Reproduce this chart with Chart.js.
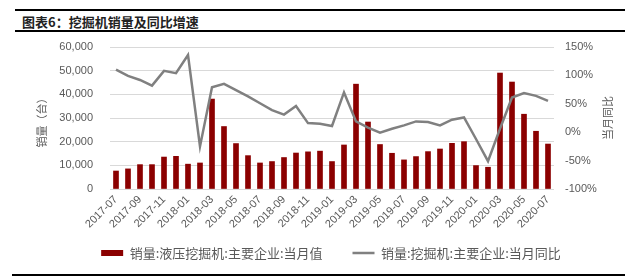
<!DOCTYPE html>
<html>
<head>
<meta charset="utf-8">
<script src="https://cdn.jsdelivr.net/npm/chart.js@4.4.1/dist/chart.umd.min.js"></script>
<style>
  html, body { margin: 0; padding: 0; background: #fff; }
  body { width: 640px; height: 279px; position: relative; overflow: hidden; }
  .rule { position: absolute; background: #000; height: 2px; }
  #title { position: absolute; left: 22px; top: 13px; font: bold 13px "Noto Sans CJK SC", sans-serif; color: #222; white-space: nowrap; line-height: 17px; }
  #c { position: absolute; left: 0; top: 0; }
</style>
</head>
<body>
<div class="rule" style="left:15px; top:9px; width:610px;"></div>
<div id="title">图表6：挖掘机销量及同比增速</div>
<div class="rule" style="left:15px; top:30px; width:610px;"></div>
<div class="rule" style="left:12px; top:274px; width:613px;"></div>
<canvas id="c" width="640" height="279"></canvas>
<script>
const months = ['2017-07','2017-08','2017-09','2017-10','2017-11','2017-12',
  '2018-01','2018-02','2018-03','2018-04','2018-05','2018-06','2018-07','2018-08','2018-09','2018-10','2018-11','2018-12',
  '2019-01','2019-02','2019-03','2019-04','2019-05','2019-06','2019-07','2019-08','2019-09','2019-10','2019-11','2019-12',
  '2020-01','2020-02','2020-03','2020-04','2020-05','2020-06','2020-07'];

const salesHydraulic = [7600, 8500, 10300, 10300, 13500, 13800,
  10500, 11000, 38000, 26400, 19200, 14100, 11000, 11600, 13300, 15200, 15700, 16000,
  11600, 18600, 44300, 28300, 18800, 15100, 12300, 13700, 15800, 16900, 19300, 20000,
  9900, 9200, 49000, 45200, 31600, 24400, 19000];

const yoyExcavator = [110, 99, 92, 82, 108, 104,
  136, -25, 79, 85, 74, 63, 51, 39, 31, 46, 16, 15,
  11, 70, 19, 8, -1, 6, 12, 19, 18, 12, 22, 26,
  -12, -51, 6, 61, 69, 64, 55];

const leftTicks = [0, 10000, 20000, 30000, 40000, 50000, 60000];
const rightTicks = [-100, -50, 0, 50, 100, 150];

const seriesNames = ['销量:液压挖掘机:主要企业:当月值', '销量:挖掘机:主要企业:当月同比'];
const axisTitles = ['销量（台）', '当月同比'];

const GREY = '#595959';
const TICK_FONT = { family: 'Liberation Sans, Arial, sans-serif', size: 11 };

const axisTitlePlugin = {
  id: 'axisTitles',
  afterDraw(chart) {
    const ctx = chart.ctx;
    const ca = chart.chartArea;
    const cy = (ca.top + ca.bottom) / 2 + 2;
    ctx.save();
    ctx.fillStyle = GREY;
    ctx.font = '11px "Noto Sans CJK SC", sans-serif';
    ctx.textAlign = 'center';
    ctx.textBaseline = 'middle';
    ctx.translate(42, cy);
    ctx.rotate(-Math.PI / 2);
    ctx.fillText(axisTitles[0], 0, 0);
    ctx.restore();
    ctx.save();
    ctx.fillStyle = GREY;
    ctx.font = '11px "Noto Sans CJK SC", sans-serif';
    ctx.textAlign = 'center';
    ctx.textBaseline = 'middle';
    ctx.translate(608, cy - 2);
    ctx.rotate(-Math.PI / 2);
    ctx.fillText(axisTitles[1], 0, 0);
    ctx.restore();
  }
};

// move the legend box up so its items sit just under the rotated month labels
const legendShiftPlugin = {
  id: 'legendShift',
  afterLayout(chart) {
    const lg = chart.legend;
    if (!lg) return;
    lg.top = 216.5;
    lg.bottom = 279;
    lg.height = lg.bottom - lg.top;
    lg.left += 12;
    lg.width = lg.right - lg.left;
  }
};

new Chart(document.getElementById('c'), {
  type: 'bar',
  data: {
    labels: months,
    datasets: [
      {
        type: 'bar',
        label: seriesNames[0],
        data: salesHydraulic,
        backgroundColor: '#8b0000',
        borderWidth: 0,
        barThickness: 5,
        yAxisID: 'y',
        order: 1,
        pointStyle: 'rect'
      },
      {
        type: 'line',
        label: seriesNames[1],
        data: yoyExcavator,
        borderColor: '#808080',
        backgroundColor: '#808080',
        borderWidth: 2.5,
        pointRadius: 0,
        pointHoverRadius: 0,
        tension: 0,
        fill: false,
        yAxisID: 'y1',
        order: 0,
        pointStyle: 'line'
      }
    ]
  },
  options: {
    responsive: false,
    animation: false,
    devicePixelRatio: 1,
    layout: { padding: { left: 10, right: 0, top: 47, bottom: 10 } },
    plugins: {
      tooltip: { enabled: false },
      legend: {
        position: 'bottom',
        maxHeight: 30,
        labels: {
          usePointStyle: true,
          pointStyleWidth: 22,
          boxWidth: 22,
          boxHeight: 6,
          padding: 30,
          color: GREY,
          font: { family: '"Noto Sans CJK SC", sans-serif', size: 13 },
          sort: (a, b) => a.datasetIndex - b.datasetIndex
        }
      }
    },
    scales: {
      x: {
        grid: { display: false, drawTicks: false },
        border: { display: false },
        ticks: {
          color: GREY,
          font: TICK_FONT,
          autoSkip: false,
          minRotation: 45,
          maxRotation: 45,
          padding: 4,
          callback: function(value, index) { return index % 2 === 0 ? months[index] : ''; }
        },
        afterFit: function(scale) { scale.height = 50; }
      },
      y: {
        position: 'left',
        min: 0,
        max: 60000,
        afterBuildTicks: function(scale) { scale.ticks = leftTicks.map(v => ({ value: v })); },
        grid: { color: '#d9d9d9', lineWidth: 1, drawTicks: false },
        border: { display: false },
        ticks: {
          color: GREY,
          font: TICK_FONT,
          padding: 17,
          callback: v => v.toLocaleString('en-US')
        },
        afterFit: function(scale) { scale.width = 100; }
      },
      y1: {
        position: 'right',
        min: -100,
        max: 150,
        afterBuildTicks: function(scale) { scale.ticks = rightTicks.map(v => ({ value: v })); },
        grid: { display: false, drawTicks: false },
        border: { display: false },
        ticks: {
          color: GREY,
          font: TICK_FONT,
          padding: 11,
          callback: v => v + '%'
        },
        afterFit: function(scale) { scale.width = 86; }
      }
    }
  },
  plugins: [axisTitlePlugin, legendShiftPlugin]
});
</script>
</body>
</html>
